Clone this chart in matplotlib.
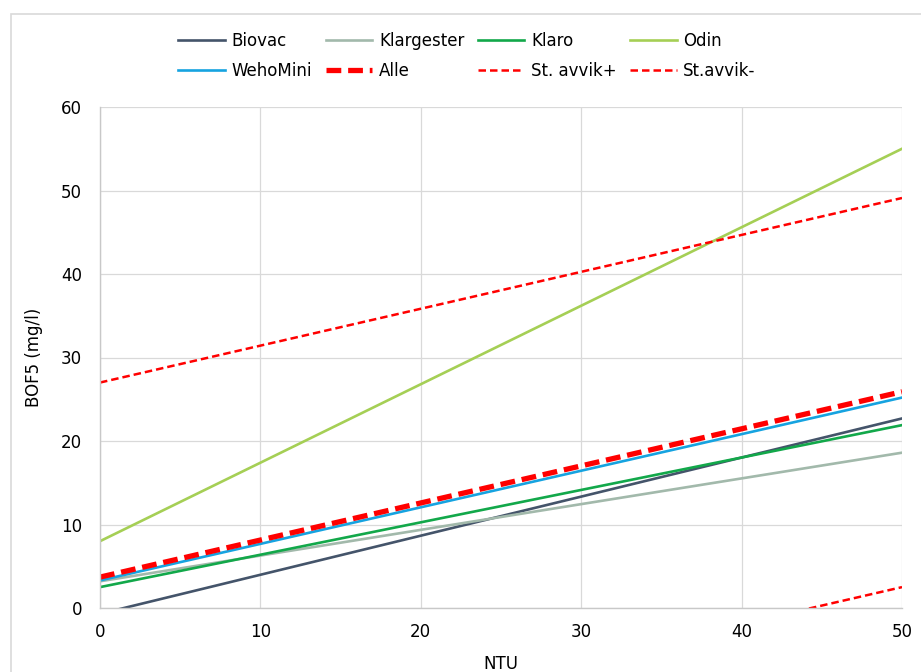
import matplotlib
matplotlib.use("Agg")
import matplotlib.pyplot as plt
from matplotlib.patches import Rectangle

# ---- data (trend-line end values) ----
ntu = [0, 50]
biovac = [-0.7, 22.7]
klargester = [3.2, 18.6]
klaro = [2.5, 21.9]
odin = [8.0, 55.0]
wehomini = [3.3, 25.2]
alle = [3.7, 25.9]
st_avvik_pluss = [27.0, 49.1]
st_avvik_minus = [-19.6, 2.5]

x_ticks = [0, 10, 20, 30, 40, 50]
y_ticks = [0, 10, 20, 30, 40, 50, 60]

W, H = 921, 672
fig = plt.figure(figsize=(W / 100, H / 100), dpi=100)
fig.patch.set_facecolor("white")

# chart-area border (partially cut off at right/bottom)
fig.patches.append(Rectangle((11 / W, -0.1), 1.2, (1 - 14 / H) + 0.1,
                             transform=fig.transFigure, fill=False,
                             edgecolor="#D9D9D9", lw=1.2))

ax = fig.add_axes([100 / W, 1 - 608 / H, (902 - 100) / W, (608 - 107) / H])

grid_c = "#D9D9D9"
ax.set_xlim(0, 50)
ax.set_ylim(0, 60)
ax.set_xticks(x_ticks)
ax.set_yticks(y_ticks)
ax.grid(True, color=grid_c, lw=0.9)
ax.set_axisbelow(True)
for s in ["top", "right"]:
    ax.spines[s].set_visible(False)
for s in ["left", "bottom"]:
    ax.spines[s].set_color("#C8C8C8")
    ax.spines[s].set_linewidth(1.0)
ax.tick_params(length=0, labelsize=12, colors="#000000")
ax.tick_params(axis="y", pad=13)
ax.tick_params(axis="x", pad=11)

lw = 1.9
h_biovac, = ax.plot(ntu, biovac, color="#44546A", lw=lw, label="Biovac")
h_klarg, = ax.plot(ntu, klargester, color="#A2B9AB", lw=lw, label="Klargester")
h_klaro, = ax.plot(ntu, klaro, color="#12A84A", lw=lw, label="Klaro")
h_odin, = ax.plot(ntu, odin, color="#A5CF55", lw=lw, label="Odin")
h_weho, = ax.plot(ntu, wehomini, color="#16A3E0", lw=lw, label="WehoMini")
h_alle, = ax.plot(ntu, alle, color="#FF0000", lw=3.8, ls=(0, (2.8, 1.3)),
                  label="Alle")
h_sp, = ax.plot(ntu, st_avvik_pluss, color="#FF0000", lw=1.8,
                ls=(0, (3, 1.6)), label="St. avvik+")
h_sm, = ax.plot(ntu, st_avvik_minus, color="#FF0000", lw=1.8,
                ls=(0, (3, 1.6)), label="St.avvik-")

ax.set_xlabel("NTU", fontsize=12, labelpad=10)
ax.set_ylabel("BOF5 (mg/l)", fontsize=12, labelpad=13)

handles = [h_biovac, h_weho, h_klarg, h_alle, h_klaro, h_sp, h_odin, h_sm]
fig.legend(handles=handles, ncol=4, loc="center",
           bbox_to_anchor=(467 / W, 1 - 56 / H), frameon=False,
           fontsize=12, handlelength=2.8, handletextpad=0.4,
           columnspacing=0.8, labelspacing=0.75)

fig.savefig("out.png", dpi=100, facecolor="white")
